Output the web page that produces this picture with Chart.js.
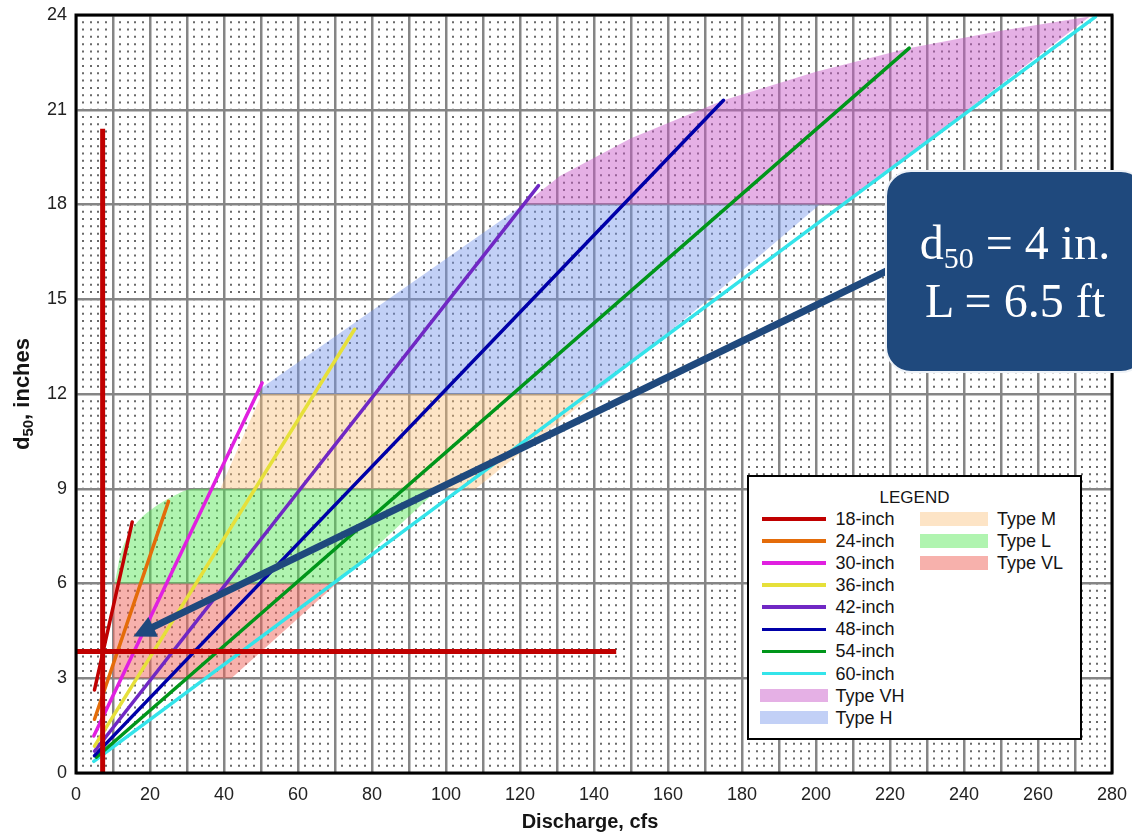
<!DOCTYPE html>
<html>
<head>
<meta charset="utf-8">
<title>Riprap d50 vs Discharge</title>
<script src="https://cdn.jsdelivr.net/npm/chart.js@4.4.1/dist/chart.umd.min.js"></script>
<style>
  html, body { margin:0; padding:0; background:#fff; overflow:hidden; }
  #wrap { position:relative; width:1132px; height:835px; overflow:hidden; }
  #c { position:absolute; left:0; top:0; }
  #legend { position:absolute; left:747px; top:475px; width:335px; height:265px; box-sizing:border-box; border:2.5px solid #000; background:#fff; font-family:"Liberation Sans", Arial, sans-serif; color:#151515; }
  #legend .title { position:absolute; left:0; width:100%; top:11px; text-align:center; font-size:17px; line-height:20px; }
  #legend .sw { position:absolute; }
  #legend .lab { position:absolute; font-size:18px; line-height:22px; white-space:nowrap; }
  #callout { position:absolute; left:885px; top:170px; width:262px; height:203px; box-sizing:border-box; background:#1F497D; border:2px solid #eef2f7; border-radius:26px; color:#fff; font-family:"Liberation Serif", "DejaVu Serif", serif; }
  #callout .ln { position:absolute; left:0; width:256px; text-align:center; font-size:48px; line-height:58px; white-space:nowrap; }
  #callout .sub { font-size:30px; position:relative; top:9px; }
</style>
</head>
<body>
<div id="wrap">
  <canvas id="c" width="1132" height="835"></canvas>
  <div id="legend"></div>
  <div id="callout">
    <div class="ln" style="top:42px">d<span class="sub">50</span> = 4 in.</div>
    <div class="ln" style="top:100px">L = 6.5 ft</div>
  </div>
</div>
<script>
// ---------------- data ----------------
const X_MIN = 0, X_MAX = 280, X_LABEL_STEP = 20, X_MAJOR = 10, X_MINOR = 2;
const Y_MIN = 0, Y_MAX = 24, Y_STEP = 3;
const X_TITLE = 'Discharge, cfs';
const Y_TITLE_PARTS = ['d', '50', ', inches'];

const PIPE_NAMES = ['18-inch', '24-inch', '30-inch', '36-inch', '42-inch', '48-inch', '54-inch', '60-inch'];
const PIPE_COLORS = ['#C00000', '#E46C0A', '#E020E0', '#E6E03A', '#7028C4', '#0000A8', '#00961A', '#34E4EA'];
const PIPE_18 = [[5, 2.63], [15.2, 7.95]];
const PIPE_24 = [[5, 1.7], [25, 8.6]];
const PIPE_30 = [[4.8, 1.17], [50.3, 12.35]];
const PIPE_36 = [[5, 0.85], [75.3, 14.05]];
const PIPE_42 = [[5, 0.69], [125, 18.6]];
const PIPE_48 = [[5, 0.55], [175, 21.3]];
const PIPE_54 = [[5.5, 0.5], [225.2, 22.95]];
const PIPE_60 = [[4.8, 0.37], [275.5, 23.94]];
const PIPE_SERIES = [PIPE_18, PIPE_24, PIPE_30, PIPE_36, PIPE_42, PIPE_48, PIPE_54, PIPE_60];

const BAND_NAMES = ['Type VH', 'Type H', 'Type M', 'Type L', 'Type VL'];
const BAND_COLORS = ['rgba(200,90,200,0.48)', 'rgba(120,150,235,0.45)', 'rgba(250,190,120,0.42)', 'rgba(80,230,80,0.45)', 'rgba(240,100,90,0.5)'];
// each band: upper boundary and lower boundary (x ascending)
const VH_UPPER = [[121, 18], [130.8, 18.9], [150, 20.1], [175, 21.3], [200, 22.2], [225, 22.95], [250, 23.5], [274, 23.95]];
const VH_LOWER = [[121, 18], [208, 18], [241, 21], [274, 23.95]];
const H_UPPER = [[50.2, 12.2], [121, 18], [201, 18]];
const H_LOWER = [[50.2, 12], [140, 12], [171, 15], [201, 18]];
const M_UPPER = [[39, 9], [50.2, 12], [140, 12]];
const M_LOWER = [[39, 9], [108, 9], [140, 12]];
const L_UPPER = [[10.5, 6], [12, 6.9], [14, 7.5], [17, 8.0], [21, 8.4], [26, 8.75], [32, 9], [98, 9]];
const L_LOWER = [[10.5, 6], [70.5, 6], [98, 9]];
const VL_UPPER = [[10, 6], [70.5, 6]];
const VL_LOWER = [[10, 3], [42, 3], [70.5, 6]];
const BAND_UPPER = [VH_UPPER, H_UPPER, M_UPPER, L_UPPER, VL_UPPER];
const BAND_LOWER = [VH_LOWER, H_LOWER, M_LOWER, L_LOWER, VL_LOWER];
const BAND_SMOOTH = [false, false, false, true, false];

// design reference lines
const DESIGN_Q = 7.2;            // cfs
const DESIGN_Q_LINE_TOP = 20.4;  // inches
const DESIGN_D50 = 3.85;         // inches
const DESIGN_D50_LINE_END = 146; // cfs
const REF_COLOR = '#C00000';

// callout arrow (data coordinates)
const ARROW_FROM = [222, 16.06];
const ARROW_TO = [15.5, 4.32];
const ARROW_COLOR = '#1F497D';

// ---------------- styles ----------------
const FONT = '"Liberation Sans", Arial, Helvetica, sans-serif';
const DOTS_PER_CELL = 13;
const MAJOR_GRID = '#858585';
const DOT_GRID = '#6a6a6a';

const toXY = arr => arr.map(([x, y]) => ({x, y}));

const datasets = [];
datasets.push({label: 'Design Q', data: toXY([[DESIGN_Q, 0], [DESIGN_Q, DESIGN_Q_LINE_TOP]]), borderColor: REF_COLOR, borderWidth: 5, fill: false, pointRadius: 0, borderCapStyle: 'butt'});
datasets.push({label: 'Design d50', data: toXY([[0, DESIGN_D50], [DESIGN_D50_LINE_END, DESIGN_D50]]), borderColor: REF_COLOR, borderWidth: 5, fill: false, pointRadius: 0, borderCapStyle: 'butt'});
PIPE_SERIES.forEach((s, i) => datasets.push({
  label: PIPE_NAMES[i], data: toXY(s), borderColor: PIPE_COLORS[i], borderWidth: 3.5,
  fill: false, pointRadius: 0, borderCapStyle: 'round'
}));
BAND_UPPER.forEach((s, i) => {
  const upper = {label: BAND_NAMES[i], data: toXY(s), borderColor: 'rgba(0,0,0,0)', borderWidth: 1,
    backgroundColor: BAND_COLORS[i], fill: '+1', pointRadius: 0, tension: 0};
  if (BAND_SMOOTH[i]) upper.cubicInterpolationMode = 'monotone';
  datasets.push(upper);
  datasets.push({label: BAND_NAMES[i] + ' lower', data: toXY(BAND_LOWER[i]), borderColor: 'rgba(0,0,0,0)', borderWidth: 1,
    fill: false, pointRadius: 0, tension: 0});
});

const dotPeriod = chart => {
  const y = chart.scales.y;
  return Math.abs(y.getPixelForValue(0) - y.getPixelForValue(Y_STEP)) / DOTS_PER_CELL;
};
const isMajorX = c => !c.tick || Math.round(c.tick.value) % X_MAJOR === 0;

const decor = {
  id: 'decor',
  afterDatasetsDraw(chart) {
    const {ctx, chartArea: a, scales: {x, y}} = chart;
    ctx.save();
    // frame
    ctx.strokeStyle = '#000';
    ctx.lineWidth = 3;
    ctx.strokeRect(a.left, a.top, a.right - a.left, a.bottom - a.top);
    // arrow
    const x1 = x.getPixelForValue(ARROW_FROM[0]), y1 = y.getPixelForValue(ARROW_FROM[1]);
    const x2 = x.getPixelForValue(ARROW_TO[0]), y2 = y.getPixelForValue(ARROW_TO[1]);
    const ang = Math.atan2(y2 - y1, x2 - x1);
    const headLen = 22, headHalf = 11;
    const bx = x2 - headLen * Math.cos(ang), by = y2 - headLen * Math.sin(ang);
    ctx.strokeStyle = ARROW_COLOR;
    ctx.lineWidth = 7;
    ctx.lineCap = 'butt';
    ctx.beginPath();
    ctx.moveTo(x1, y1);
    ctx.lineTo(bx + 2 * Math.cos(ang), by + 2 * Math.sin(ang));
    ctx.stroke();
    ctx.fillStyle = ARROW_COLOR;
    ctx.beginPath();
    ctx.moveTo(x2, y2);
    ctx.lineTo(bx + headHalf * Math.sin(ang), by - headHalf * Math.cos(ang));
    ctx.lineTo(bx - headHalf * Math.sin(ang), by + headHalf * Math.cos(ang));
    ctx.closePath();
    ctx.fill();
    ctx.restore();
  },
  afterDraw(chart) {
    const {ctx, chartArea: a} = chart;
    ctx.save();
    ctx.fillStyle = '#151515';
    // x title
    ctx.font = 'bold 20px ' + FONT;
    ctx.textAlign = 'center';
    ctx.textBaseline = 'middle';
    ctx.fillText(X_TITLE, 590, 822);
    // y title with subscript
    const mainFont = 'bold 22px ' + FONT, subFont = 'bold 15px ' + FONT;
    ctx.font = mainFont; const w0 = ctx.measureText(Y_TITLE_PARTS[0]).width;
    const w2 = ctx.measureText(Y_TITLE_PARTS[2]).width;
    ctx.font = subFont; const w1 = ctx.measureText(Y_TITLE_PARTS[1]).width;
    const total = w0 + w1 + w2;
    ctx.translate(21, (a.top + a.bottom) / 2);
    ctx.rotate(-Math.PI / 2);
    ctx.textAlign = 'left';
    ctx.textBaseline = 'alphabetic';
    let px = -total / 2;
    ctx.font = mainFont; ctx.fillText(Y_TITLE_PARTS[0], px, 8); px += w0;
    ctx.font = subFont; ctx.fillText(Y_TITLE_PARTS[1], px, 12); px += w1;
    ctx.font = mainFont; ctx.fillText(Y_TITLE_PARTS[2], px, 8);
    ctx.restore();
  }
};

new Chart(document.getElementById('c'), {
  type: 'line',
  data: {datasets},
  options: {
    responsive: false,
    animation: false,
    devicePixelRatio: 1,
    layout: {padding: {top: 15, right: 20, left: 0, bottom: 0}},
    plugins: {legend: {display: false}, tooltip: {enabled: false}, title: {display: false}},
    elements: {point: {radius: 0}, line: {tension: 0}},
    scales: {
      x: {
        type: 'linear', min: X_MIN, max: X_MAX,
        afterFit: s => { s.height = 62; s.paddingLeft = 0; s.paddingRight = 0; },
        ticks: {
          stepSize: X_MINOR, autoSkip: false, maxRotation: 0, minRotation: 0, maxTicksLimit: 1000,
          padding: 11, color: '#222', font: {family: FONT, size: 18},
          callback: v => (Math.round(v) % X_LABEL_STEP === 0 ? String(Math.round(v)) : '')
        },
        grid: {
          drawTicks: false,
          color: c => isMajorX(c) ? MAJOR_GRID : DOT_GRID,
          lineWidth: c => isMajorX(c) ? 2.5 : 2
        },
        border: {
          display: false,
          dash: c => isMajorX(c) ? [] : [2, dotPeriod(c.chart) - 2],
          dashOffset: 1
        }
      },
      y: {
        type: 'linear', min: Y_MIN, max: Y_MAX,
        afterFit: s => { s.width = 76; s.paddingTop = 0; s.paddingBottom = 0; },
        ticks: {stepSize: Y_STEP, padding: 9, color: '#222', font: {family: FONT, size: 18}},
        grid: {drawTicks: false, color: MAJOR_GRID, lineWidth: 2.5},
        border: {display: false}
      }
    }
  },
  plugins: [decor]
});

// ---------------- legend (built from the series definitions) ----------------
(function buildLegend() {
  const lg = document.getElementById('legend');
  const title = document.createElement('div');
  title.className = 'title'; title.textContent = 'LEGEND';
  lg.appendChild(title);
  const ROW0 = 41.8, ROW_H = 22.1;
  const col1 = PIPE_NAMES.map((n, i) => ({name: n, color: PIPE_COLORS[i], kind: 'line'}))
    .concat([{name: BAND_NAMES[0], color: BAND_COLORS[0], kind: 'fill'}, {name: BAND_NAMES[1], color: BAND_COLORS[1], kind: 'fill'}]);
  const col2 = [2, 3, 4].map(i => ({name: BAND_NAMES[i], color: BAND_COLORS[i], kind: 'fill'}));
  const add = (items, startRow, swX, swW, labX) => items.forEach((it, r) => {
    const cy = ROW0 + ROW_H * (r + startRow);
    const sw = document.createElement('div');
    sw.className = 'sw';
    const h = it.kind === 'line' ? 3.5 : 13.5;
    sw.style.left = (it.kind === 'line' ? swX : swX - 2) + 'px';
    sw.style.width = (it.kind === 'line' ? swW : swW + 3.6) + 'px';
    sw.style.top = (cy - h / 2) + 'px'; sw.style.height = h + 'px';
    sw.style.background = it.color;
    lg.appendChild(sw);
    const lb = document.createElement('div');
    lb.className = 'lab'; lb.textContent = it.name;
    lb.style.left = labX + 'px'; lb.style.top = (cy - 11) + 'px';
    lg.appendChild(lb);
  });
  add(col1, 0, 13.2, 64, 86.5);
  add(col2, 0, 172.5, 64.7, 248);
})();
</script>
</body>
</html>
